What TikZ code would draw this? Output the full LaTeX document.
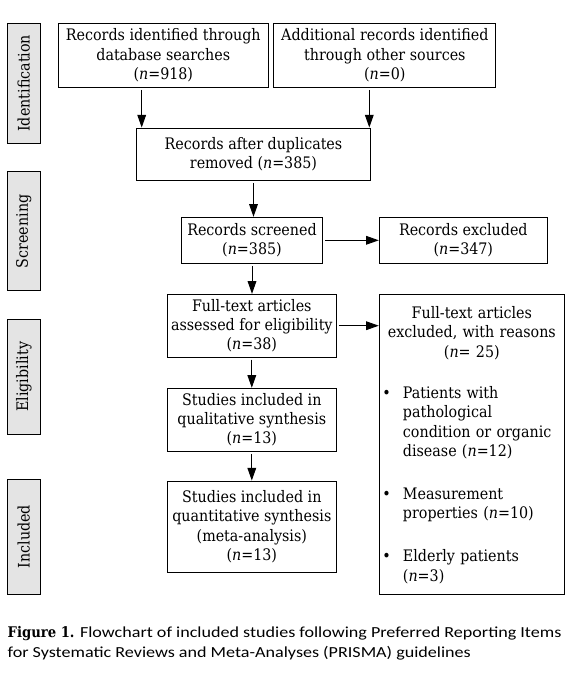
\documentclass[tikz,border=0pt]{standalone}
\usepackage{fontspec}
\setmainfont{DejaVu Serif Condensed}
\newfontfamily\capfont[FakeStretch=1.18]{Carlito}
\usetikzlibrary{arrows.meta}
\definecolor{sidegray}{HTML}{E4E4E4}
\newcommand\fs{\fontsize{11.9}{14.55}\selectfont}
\begin{document}
\begin{tikzpicture}[x=0.75pt,y=-0.75pt,
  box/.style={draw, line width=0.75pt, inner sep=0pt, align=center, font=\fs},
  side/.style={draw, fill=sidegray, line width=0.75pt, inner sep=0pt, font=\fs, rotate=90,
    minimum height={33*0.75pt}},
  arr/.style={-{Triangle[length=9.5pt,width=6.5pt]}, line width=0.75pt, shorten <=1.5pt},
  txt/.style={font=\fs, inner sep=0pt, align=left, text width={165*0.75pt}},
  capt/.style={font={\capfont\fontsize{11.5}{14}\selectfont}, inner sep=0pt, anchor=base west}]
\useasboundingbox (0,0) rectangle (576,674);
% side labels
\node[side, minimum width={120*0.75pt}] (sid) at (23.8,83.3) {Identification};
\node[side, minimum width={119.3*0.75pt}] (sscr) at (23.8,231.3) {Screening};
\node[side, minimum width={115*0.75pt}] (seli) at (23.8,376.8) {Eligibility};
\node[side, minimum width={114.7*0.75pt}] (sinc) at (23.8,536.7) {Included};
% boxes
\node[box, minimum width={210*0.75pt}, minimum height={64*0.75pt}] (b1) at (163.3,55.3)
  {Records identified through\\database searches\\(\textit{n}=918)};
\node[box, minimum width={221.7*0.75pt}, minimum height={64*0.75pt}] (b2) at (384.8,55.3)
  {Additional records identified\\through other sources\\(\textit{n}=0)};
\node[box, minimum width={233.6*0.75pt}, minimum height={52.3*0.75pt}] (b3) at (253.5,154.2)
  {Records after duplicates\\removed (\textit{n}=385)};
\node[box, minimum width={141.4*0.75pt}, minimum height={46*0.75pt}] (scr) at (252,240.3)
  {Records screened\\(\textit{n}=385)};
\node[box, minimum width={168*0.75pt}, minimum height={46*0.75pt}] (exc) at (463.3,240.3)
  {Records excluded\\(\textit{n}=347)};
\node[box, minimum width={169*0.75pt}, minimum height={62.7*0.75pt}] (ft) at (251.8,325.7)
  {Full-text articles\\assessed for eligibility\\(\textit{n}=38)};
\node[box, minimum width={185*0.75pt}, minimum height={299.7*0.75pt}] (tall) at (471.8,444.2) {};
\node[box, minimum width={169*0.75pt}, minimum height={63*0.75pt}] (qual) at (251.8,419.8)
  {Studies included in\\qualitative synthesis\\(\textit{n}=13)};
\node[box, minimum width={169*0.75pt}, minimum height={91.3*0.75pt}] (quant) at (251.8,526.7)
  {Studies included in\\quantitative synthesis\\(meta-analysis)\\(\textit{n}=13)};
% tall box contents
\node[txt, align=center, anchor=base, text width={180*0.75pt}] (th) at (471.8,318.3)
  {Full-text articles\\excluded, with reasons\\(\textit{n}= 25)};
\node[font=\fs, inner sep=0pt, anchor=base] (u1) at (386.5,398.3) {\textbullet};
\node[txt, anchor=base west] (i1) at (402.7,398.3)
  {Patients with\\pathological\\condition or organic\\disease (\textit{n}=12)};
\node[font=\fs, inner sep=0pt, anchor=base] (u2) at (386.5,499) {\textbullet};
\node[txt, anchor=base west] (i2) at (402.7,499)
  {Measurement\\properties (\textit{n}=10)};
\node[font=\fs, inner sep=0pt, anchor=base] (u3) at (386.5,561.7) {\textbullet};
\node[txt, anchor=base west] (i3) at (402.7,561.7)
  {Elderly patients\\(\textit{n}=3)};
% arrows
\coordinate (xa) at (141.7,0);
\coordinate (xb) at (369.3,0);
\draw[arr] (b1.south -| xa) -- (b3.north -| xa);
\draw[arr] (b2.south -| xb) -- (b3.north -| xb);
\draw[arr] (b3.south) -- (b3.south |- scr.north);
\draw[arr] (scr.south) -- (scr.south |- ft.north);
\draw[arr] (ft.south) -- (ft.south |- qual.north);
\draw[arr] (qual.south) -- (qual.south |- quant.north);
\draw[arr] (scr.east) -- (scr.east -| exc.west);
\draw[arr] (ft.east) -- (ft.east -| tall.west);
% caption
\node[capt] (cap1) at (7.4,637.7)
  {{\rmfamily\bfseries\fontsize{11}{14}\selectfont Figure 1.} Flowchart of included studies following Preferred Reporting Items};
\node[capt] (cap2) at (7.4,657.7)
  {for Systematic Reviews and Meta-Analyses (PRISMA) guidelines};
\end{tikzpicture}
\end{document}
